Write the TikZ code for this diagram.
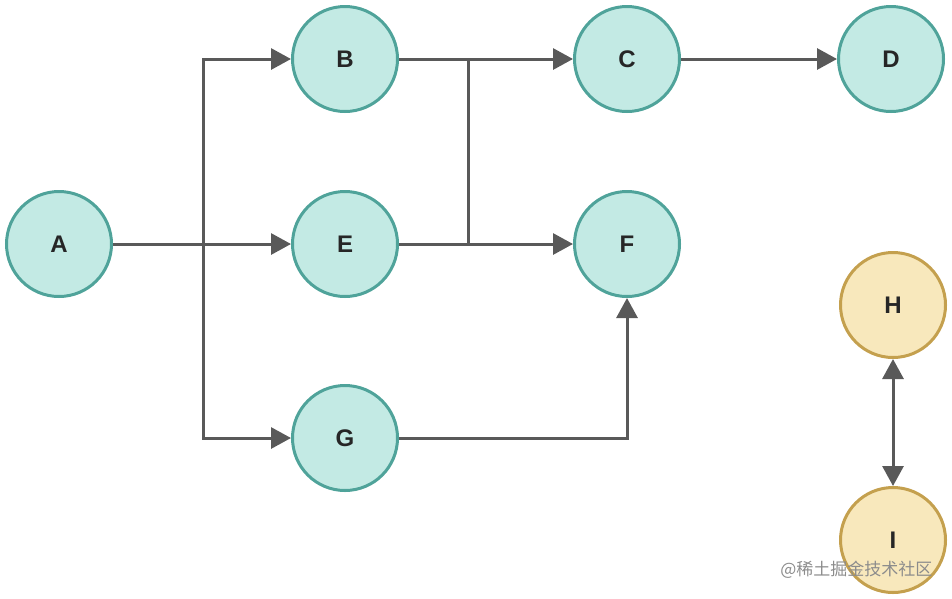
\documentclass[tikz,border=0pt]{standalone}
\usepackage{fontspec}
\setmainfont{Liberation Sans}
\newfontfamily\cjk{Noto Sans CJK SC}
\usetikzlibrary{arrows.meta}
\definecolor{tealfill}{HTML}{C3EAE4}
\definecolor{tealline}{HTML}{4FA39A}
\definecolor{yelfill}{HTML}{F8E8BC}
\definecolor{yelline}{HTML}{C4A04E}
\definecolor{arrowgray}{HTML}{595959}
\tikzset{
  tnode/.style={circle, draw=tealline, fill=tealfill, line width=3pt, minimum size=105pt, inner sep=0pt, font=\fontsize{24}{26}\selectfont\bfseries, text=black!85},
  ynode/.style={tnode, draw=yelline, fill=yelfill},
  conn/.style={draw=arrowgray, line width=3pt},
  arr/.style={conn, -{Triangle[length=20pt,width=21pt]}},
  darr/.style={conn, {Triangle[length=20pt,width=21pt]}-{Triangle[length=20pt,width=21pt]}}
}
\begin{document}
\begin{tikzpicture}[x=1pt,y=-1pt]
\useasboundingbox (0,0) rectangle (952,598);
\node[tnode] (A) at (59,244) {A};
\node[tnode] (B) at (345,59) {B};
\node[tnode] (C) at (627,59) {C};
\node[tnode] (D) at (891,59) {D};
\node[tnode] (E) at (345,244) {E};
\node[tnode] (F) at (627,244) {F};
\node[tnode] (G) at (345,438) {G};
\node[ynode] (H) at (893,305) {H};
\node[ynode] (I) at (893,540) {I};
\coordinate (j1) at (203,244);
\coordinate (j2) at (468,59);
\coordinate (j3) at (468,244);
\draw[conn] (A.east) -- (j1);
\draw[arr] (j1) |- (B.west);
\draw[arr] (j1) -- (E.west);
\draw[arr] (j1) |- (G.west);
\draw[conn] (B.east) -- (j2);
\draw[conn] (E.east) -- (j3);
\draw[conn] (j2) -- (j3);
\draw[arr] (j2) -- (C.west);
\draw[arr] (j3) -- (F.west);
\draw[arr] (C.east) -- (D.west);
\draw[arr] (G.east) -| (F.south);
\draw[darr] (H.south) -- (I.north);
\node[font=\cjk\fontsize{17}{18}\selectfont, text=black!45, anchor=east] (wm) at (936,570) {@稀土掘金技术社区};
\end{tikzpicture}
\end{document}
